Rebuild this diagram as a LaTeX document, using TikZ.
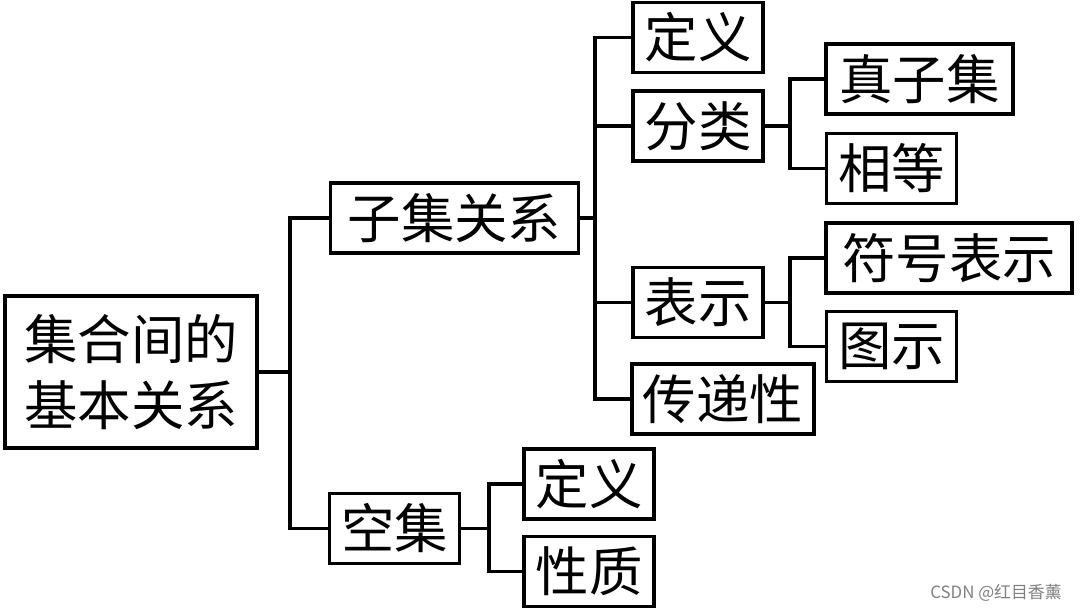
\documentclass[tikz,border=0pt]{standalone}
\usepackage{fontspec}
\usepackage{tikz}
\newfontfamily\cjk{Noto Sans CJK SC}

\begin{document}
\begin{tikzpicture}[
    x=0.25mm, y=-0.25mm,
    bx/.style={rectangle, draw=black, line width=2.7pt, align=center, minimum height=17.5mm, inner sep=0pt, font=\cjk\fontsize{38}{47}\selectfont},
    w2/.style={bx, minimum width=32.5mm},
    w3/.style={bx, minimum width=45.5mm},
    w4/.style={bx, minimum width=62mm},
    ln/.style={line width=2.3pt, line cap=rect, draw=black}
]
    \useasboundingbox (0,0) rectangle (1080,612);

    \node [bx, minimum width=63mm, minimum height=38mm] (root) at (131,372) {集合间的\\基本关系};
    \node [w4] (zj) at (454.5,218) {子集关系};
    \node [w2] (kj) at (394.5,528.5) {空集};

    \node [w2] (dy) at (698,37.5) {定义};
    \node [w2] (fl) at (698,126) {分类};
    \node [w2] (bs) at (698,302.5) {表示};
    \node [w3] (cd) at (723,399) {传递性};

    \node [w3, minimum width=46.75mm] (zzj) at (919.5,79) {真子集};
    \node [w2] (xd) at (891.5,168.5) {相等};
    \node [w4, minimum width=61.5mm] (fh) at (949,258) {符号表示};
    \node [w2] (ts) at (891.5,346.5) {图示};

    \node [w2] (kdy) at (589,484) {定义};
    \node [w2] (xz) at (589,571.5) {性质};

    \node [text=gray, font=\cjk\fontsize{12}{14}\selectfont] (wm) at (996,593) {CSDN @红目香薰};

    \coordinate (j0) at (290,372);
    \coordinate (j1) at (595,218);
    \coordinate (j2) at (790,126);
    \coordinate (j3) at (790,302.5);
    \coordinate (j4) at (489,528.5);

    \draw [ln] (root.east) -- (j0);
    \draw [ln] (j0) |- (zj.west);
    \draw [ln] (j0) |- (kj.west);

    \draw [ln] (zj.east) -- (j1);
    \draw [ln] (j1) |- (dy.west);
    \draw [ln] (j1) |- (fl.west);
    \draw [ln] (j1) |- (bs.west);
    \draw [ln] (j1) |- (cd.west);

    \draw [ln] (fl.east) -- (j2);
    \draw [ln] (j2) |- (zzj.west);
    \draw [ln] (j2) |- (xd.west);

    \draw [ln] (bs.east) -- (j3);
    \draw [ln] (j3) |- (fh.west);
    \draw [ln] (j3) |- (ts.west);

    \draw [ln] (kj.east) -- (j4);
    \draw [ln] (j4) |- (kdy.west);
    \draw [ln] (j4) |- (xz.west);
\end{tikzpicture}
\end{document}
